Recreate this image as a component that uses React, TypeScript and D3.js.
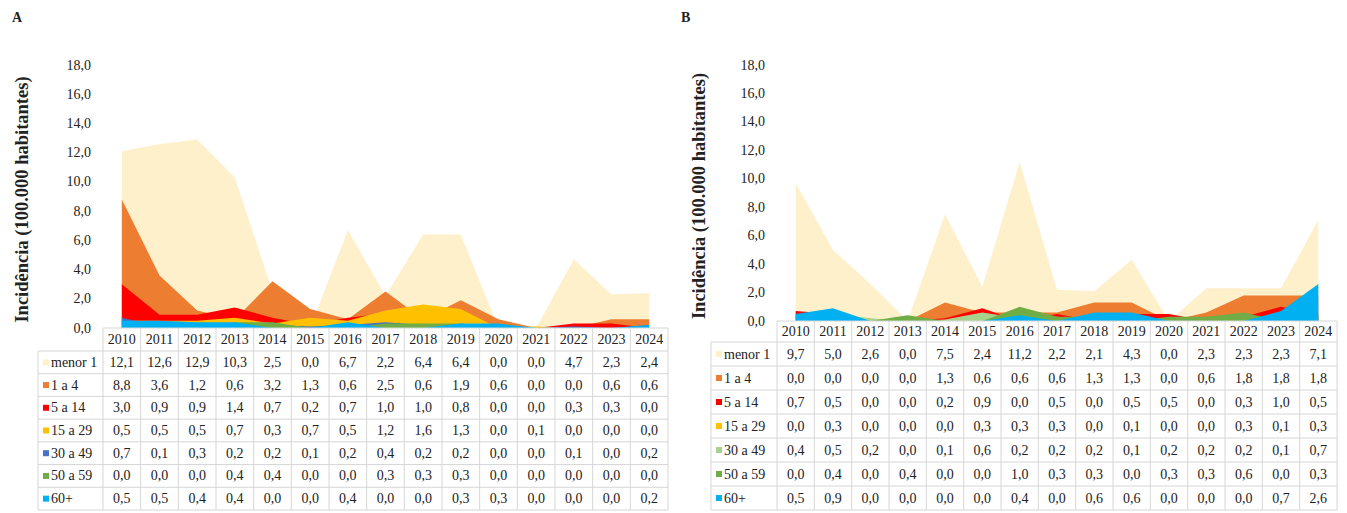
import React from "react";
import * as d3 from "d3";

// anos (categorias) e faixas etárias
const years = ["2010", "2011", "2012", "2013", "2014", "2015", "2016", "2017", "2018", "2019", "2020", "2021", "2022", "2023", "2024"];
const groups = ["menor 1", "1 a 4", "5 a 14", "15 a 29", "30 a 49", "50 a 59", "60+"];
const yTicks = [0, 2, 4, 6, 8, 10, 12, 14, 16, 18];

// painel A
const menor1A = [12.1, 12.6, 12.9, 10.3, 2.5, 0.0, 6.7, 2.2, 6.4, 6.4, 0.0, 0.0, 4.7, 2.3, 2.4];
const de1a4A = [8.8, 3.6, 1.2, 0.6, 3.2, 1.3, 0.6, 2.5, 0.6, 1.9, 0.6, 0.0, 0.0, 0.6, 0.6];
const de5a14A = [3.0, 0.9, 0.9, 1.4, 0.7, 0.2, 0.7, 1.0, 1.0, 0.8, 0.0, 0.0, 0.3, 0.3, 0.0];
const de15a29A = [0.5, 0.5, 0.5, 0.7, 0.3, 0.7, 0.5, 1.2, 1.6, 1.3, 0.0, 0.1, 0.0, 0.0, 0.0];
const de30a49A = [0.7, 0.1, 0.3, 0.2, 0.2, 0.1, 0.2, 0.4, 0.2, 0.2, 0.0, 0.0, 0.1, 0.0, 0.2];
const de50a59A = [0.0, 0.0, 0.0, 0.4, 0.4, 0.0, 0.0, 0.3, 0.3, 0.3, 0.0, 0.0, 0.0, 0.0, 0.0];
const mais60A = [0.5, 0.5, 0.4, 0.4, 0.0, 0.0, 0.4, 0.0, 0.0, 0.3, 0.3, 0.0, 0.0, 0.0, 0.2];

// painel B
const menor1B = [9.7, 5.0, 2.6, 0.0, 7.5, 2.4, 11.2, 2.2, 2.1, 4.3, 0.0, 2.3, 2.3, 2.3, 7.1];
const de1a4B = [0.0, 0.0, 0.0, 0.0, 1.3, 0.6, 0.6, 0.6, 1.3, 1.3, 0.0, 0.6, 1.8, 1.8, 1.8];
const de5a14B = [0.7, 0.5, 0.0, 0.0, 0.2, 0.9, 0.0, 0.5, 0.0, 0.5, 0.5, 0.0, 0.3, 1.0, 0.5];
const de15a29B = [0.0, 0.3, 0.0, 0.0, 0.0, 0.3, 0.3, 0.3, 0.0, 0.1, 0.0, 0.0, 0.3, 0.1, 0.3];
const de30a49B = [0.4, 0.5, 0.2, 0.0, 0.1, 0.6, 0.2, 0.2, 0.2, 0.1, 0.2, 0.2, 0.2, 0.1, 0.7];
const de50a59B = [0.0, 0.4, 0.0, 0.4, 0.0, 0.0, 1.0, 0.3, 0.3, 0.0, 0.3, 0.3, 0.6, 0.0, 0.3];
const mais60B = [0.5, 0.9, 0.0, 0.0, 0.0, 0.0, 0.4, 0.0, 0.6, 0.6, 0.0, 0.0, 0.0, 0.7, 2.6];

const colorsA = ["#FFF0CC", "#ED7D31", "#FF0000", "#FFC000", "#4472C4", "#70AD47", "#00B0F0"];
const colorsB = ["#FFF0CC", "#ED7D31", "#FF0000", "#FFC000", "#A9D18E", "#70AD47", "#00B0F0"];

const font = "'Liberation Serif', 'Times New Roman', serif";
const gridColor = "#d6d6d6";
const textColor = "#222";

const fmt = (v: number) => v.toFixed(1).replace(".", ",");

type PanelProps = {
  letter: string;
  letterX: number;
  titleX: number;
  tickRight: number;
  labelLeft: number;
  dataLeft: number;
  dataRight: number;
  headerTop: number;
  rowsTop: number;
  rowsBottom: number;
  yTop: number;
  series: number[][];
  colors: string[];
};

function Panel(p: PanelProps) {
  const x = d3.scaleBand().domain(years).range([p.dataLeft, p.dataRight]);
  const cx = (yr: string) => (x(yr) as number) + x.bandwidth() / 2;
  const y = d3.scaleLinear().domain([0, 18]).range([p.headerTop, p.yTop]);
  const row = d3.scaleBand().domain(groups).range([p.rowsTop, p.rowsBottom]);

  const area = d3
    .area<number>()
    .x((_, i) => cx(years[i]))
    .y0(y(0))
    .y1((d) => y(d));

  const titleY = (p.yTop + p.headerTop) / 2 + 3;

  return (
    <g fontFamily={font} fill={textColor}>
      <text x={p.letterX} y={22} fontSize={14} fontWeight="bold">
        {p.letter}
      </text>
      <text
        transform={`translate(${p.titleX},${titleY}) rotate(-90)`}
        textAnchor="middle"
        dominantBaseline="central"
        fontSize={18.5}
        fontWeight="bold"
      >
        Incidência (100.000 habitantes)
      </text>
      {yTicks.map((t) => (
        <text key={t} x={p.tickRight} y={y(t)} textAnchor="end" dominantBaseline="central" fontSize={14}>
          {fmt(t)}
        </text>
      ))}

      {p.series.map((s, i) => (
        <path key={groups[i]} d={area(s) || ""} fill={p.colors[i]} stroke="none" />
      ))}

      {/* tabela de dados */}
      <g stroke={gridColor} strokeWidth={1} fill="none">
        <line x1={p.dataLeft} x2={p.dataRight} y1={p.headerTop} y2={p.headerTop} />
        {groups.map((g) => (
          <line key={g} x1={p.labelLeft} x2={p.dataRight} y1={row(g)} y2={row(g)} />
        ))}
        <line x1={p.labelLeft} x2={p.dataRight} y1={p.rowsBottom} y2={p.rowsBottom} />
        <line x1={p.labelLeft} x2={p.labelLeft} y1={p.rowsTop} y2={p.rowsBottom} />
        {years.map((yr) => (
          <line key={yr} x1={x(yr)} x2={x(yr)} y1={p.headerTop} y2={p.rowsBottom} />
        ))}
        <line x1={p.dataRight} x2={p.dataRight} y1={p.headerTop} y2={p.rowsBottom} />
      </g>
      {years.map((yr) => (
        <text
          key={yr}
          x={cx(yr)}
          y={(p.headerTop + p.rowsTop) / 2}
          textAnchor="middle"
          dominantBaseline="central"
          fontSize={14}
        >
          {yr}
        </text>
      ))}
      {groups.map((g, gi) => {
        const ry = (row(g) as number) + row.bandwidth() / 2;
        return (
          <g key={g}>
            <rect x={p.labelLeft + 5} y={ry - 3} width={6} height={6} fill={p.colors[gi]} />
            <text x={p.labelLeft + 13} y={ry} dominantBaseline="central" fontSize={14}>
              {g}
            </text>
            {years.map((yr, i) => (
              <text key={yr} x={cx(yr)} y={ry} textAnchor="middle" dominantBaseline="central" fontSize={14}>
                {fmt(p.series[gi][i])}
              </text>
            ))}
          </g>
        );
      })}
    </g>
  );
}

export default function App() {
  return (
    <svg
      width={1347}
      height={513}
      style={{ position: "absolute", left: 0, top: 0, background: "#fff" }}
    >
      <Panel
        letter="A"
        letterX={12}
        titleX={22}
        tickRight={91}
        labelLeft={38}
        dataLeft={103}
        dataRight={668}
        headerTop={328}
        rowsTop={351}
        rowsBottom={510}
        yTop={65}
        series={[menor1A, de1a4A, de5a14A, de15a29A, de30a49A, de50a59A, mais60A]}
        colors={colorsA}
      />
      <Panel
        letter="B"
        letterX={681}
        titleX={699}
        tickRight={765}
        labelLeft={711}
        dataLeft={777}
        dataRight={1337}
        headerTop={321}
        rowsTop={342}
        rowsBottom={510}
        yTop={65}
        series={[menor1B, de1a4B, de5a14B, de15a29B, de30a49B, de50a59B, mais60B]}
        colors={colorsB}
      />
    </svg>
  );
}
